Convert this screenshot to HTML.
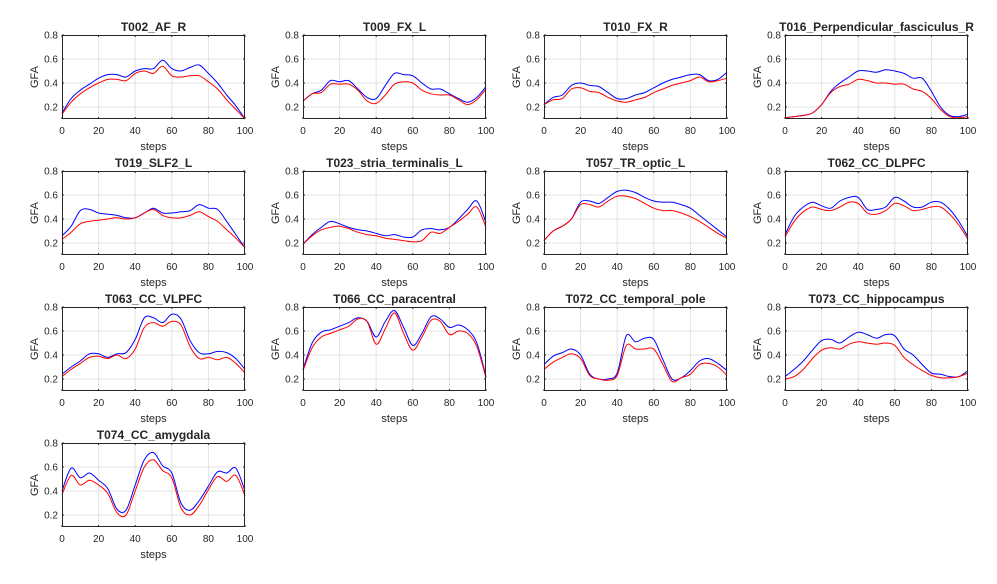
<!DOCTYPE html>
<html><head><meta charset="utf-8"><style>
body{margin:0;background:#fff;width:997px;height:579px;overflow:hidden;font-family:"Liberation Sans",Arial,sans-serif}
svg text{font-family:"Liberation Sans",Arial,sans-serif;fill:#262626}
</style></head><body>
<svg id="fig" width="997" height="579" xmlns="http://www.w3.org/2000/svg"></svg>
<script>
const titles=["T002_AF_R","T009_FX_L","T010_FX_R","T016_Perpendicular_fasciculus_R","T019_SLF2_L","T023_stria_terminalis_L","T057_TR_optic_L","T062_CC_DLPFC","T063_CC_VLPFC","T066_CC_paracentral","T072_CC_temporal_pole","T073_CC_hippocampus","T074_CC_amygdala"];
const steps=[0,5,10,15,20,25,30,35,40,45,50,55,60,65,70,75,80,85,90,95,100];
const xTicks=[0,20,40,60,80,100];
const yTicks=[0.2,0.4,0.6,0.8];
const blue=[
[0.15,0.27,0.34,0.39,0.44,0.47,0.47,0.45,0.50,0.52,0.52,0.59,0.52,0.50,0.53,0.55,0.48,0.40,0.30,0.21,0.10],
[0.25,0.31,0.34,0.42,0.41,0.42,0.35,0.28,0.27,0.38,0.48,0.47,0.46,0.40,0.35,0.35,0.31,0.27,0.24,0.28,0.37],
[0.22,0.28,0.30,0.38,0.40,0.38,0.37,0.32,0.27,0.27,0.30,0.32,0.36,0.40,0.43,0.45,0.47,0.47,0.42,0.43,0.49],
[0.11,0.12,0.13,0.15,0.22,0.33,0.40,0.45,0.50,0.50,0.49,0.51,0.50,0.48,0.44,0.44,0.33,0.20,0.13,0.12,0.14],
[0.26,0.34,0.47,0.48,0.45,0.44,0.43,0.41,0.41,0.45,0.49,0.45,0.45,0.46,0.47,0.52,0.49,0.48,0.38,0.27,0.16],
[0.19,0.27,0.33,0.38,0.36,0.33,0.31,0.30,0.28,0.26,0.27,0.25,0.25,0.31,0.32,0.31,0.33,0.40,0.48,0.55,0.37],
[0.22,0.30,0.34,0.40,0.54,0.55,0.53,0.58,0.63,0.64,0.62,0.58,0.55,0.54,0.54,0.52,0.49,0.43,0.37,0.31,0.25],
[0.27,0.42,0.50,0.54,0.51,0.49,0.55,0.58,0.58,0.48,0.48,0.50,0.58,0.55,0.50,0.50,0.54,0.54,0.48,0.38,0.25],
[0.24,0.30,0.35,0.41,0.41,0.38,0.41,0.42,0.53,0.71,0.71,0.67,0.74,0.70,0.52,0.42,0.41,0.43,0.42,0.37,0.28],
[0.28,0.50,0.59,0.61,0.64,0.67,0.71,0.68,0.55,0.68,0.77,0.63,0.48,0.58,0.72,0.70,0.63,0.65,0.61,0.50,0.22],
[0.32,0.39,0.42,0.45,0.40,0.24,0.20,0.20,0.25,0.56,0.51,0.54,0.53,0.36,0.20,0.21,0.27,0.35,0.37,0.33,0.27],
[0.22,0.28,0.35,0.44,0.52,0.53,0.50,0.55,0.59,0.57,0.54,0.57,0.56,0.45,0.40,0.32,0.25,0.24,0.22,0.22,0.27],
[0.40,0.59,0.51,0.55,0.49,0.42,0.25,0.24,0.45,0.66,0.72,0.61,0.55,0.30,0.24,0.32,0.44,0.56,0.55,0.59,0.40]];
const red=[
[0.14,0.24,0.31,0.36,0.40,0.43,0.43,0.42,0.48,0.50,0.48,0.54,0.46,0.45,0.46,0.46,0.41,0.35,0.26,0.18,0.10],
[0.25,0.31,0.32,0.39,0.39,0.39,0.34,0.25,0.23,0.30,0.39,0.41,0.40,0.34,0.31,0.30,0.30,0.26,0.22,0.26,0.35],
[0.22,0.26,0.27,0.35,0.36,0.33,0.32,0.28,0.25,0.24,0.26,0.28,0.32,0.35,0.38,0.40,0.42,0.45,0.41,0.42,0.44],
[0.11,0.12,0.13,0.15,0.22,0.32,0.37,0.39,0.43,0.42,0.40,0.40,0.39,0.39,0.35,0.33,0.27,0.18,0.12,0.11,0.12],
[0.23,0.29,0.36,0.38,0.39,0.40,0.41,0.40,0.41,0.45,0.48,0.43,0.41,0.41,0.43,0.46,0.42,0.38,0.31,0.24,0.16],
[0.19,0.26,0.31,0.33,0.34,0.32,0.29,0.27,0.26,0.24,0.23,0.22,0.21,0.22,0.29,0.28,0.33,0.38,0.44,0.50,0.33],
[0.22,0.30,0.34,0.40,0.52,0.52,0.50,0.55,0.59,0.59,0.57,0.53,0.49,0.47,0.47,0.45,0.42,0.38,0.33,0.28,0.24],
[0.25,0.38,0.46,0.50,0.48,0.47,0.50,0.54,0.53,0.45,0.44,0.47,0.53,0.51,0.47,0.48,0.50,0.50,0.44,0.35,0.23],
[0.22,0.28,0.33,0.38,0.39,0.37,0.40,0.37,0.45,0.63,0.67,0.64,0.68,0.65,0.47,0.37,0.38,0.36,0.38,0.33,0.25],
[0.27,0.46,0.55,0.58,0.61,0.64,0.70,0.68,0.49,0.62,0.75,0.58,0.44,0.55,0.69,0.68,0.57,0.60,0.58,0.47,0.21],
[0.28,0.34,0.38,0.41,0.37,0.23,0.20,0.19,0.23,0.48,0.45,0.45,0.45,0.32,0.18,0.21,0.24,0.32,0.33,0.30,0.23],
[0.20,0.22,0.28,0.37,0.44,0.46,0.45,0.49,0.51,0.50,0.49,0.50,0.48,0.38,0.32,0.27,0.23,0.21,0.21,0.22,0.25],
[0.37,0.53,0.45,0.49,0.45,0.38,0.22,0.20,0.40,0.60,0.66,0.57,0.51,0.26,0.20,0.28,0.41,0.52,0.48,0.53,0.36]];

const NS="http://www.w3.org/2000/svg";
const svg=document.getElementById('fig');
const W=183,H=84;
function mk(tag,attrs,parent){const e=document.createElementNS(NS,tag);for(const k in attrs)e.setAttribute(k,attrs[k]);parent.appendChild(e);return e;}
function pathFrom(pts){
  let d="M"+pts[0][0].toFixed(2)+","+pts[0][1].toFixed(2);
  for(let i=0;i<pts.length-1;i++){
    const p0=pts[Math.max(0,i-1)],p1=pts[i],p2=pts[i+1],p3=pts[Math.min(pts.length-1,i+2)];
    const c1x=p1[0]+(p2[0]-p0[0])/6,c1y=p1[1]+(p2[1]-p0[1])/6;
    const c2x=p2[0]-(p3[0]-p1[0])/6,c2y=p2[1]-(p3[1]-p1[1])/6;
    d+=" C"+c1x.toFixed(2)+","+c1y.toFixed(2)+" "+c2x.toFixed(2)+","+c2y.toFixed(2)+" "+p2[0].toFixed(2)+","+p2[1].toFixed(2);
  }
  return d;
}
titles.forEach((t,i)=>{
  const col=i%4,row=Math.floor(i/4);
  const L=62+col*241,T=35+row*136;
  const xs=v=>L+v/100*W;
  const ys=v=>T+H-(v-0.1)/0.7*H;
  const g=mk('g',{},svg);
  
  
  mk('rect',{x:L,y:T,width:W,height:H,fill:'#fff'},g);
  xTicks.forEach(v=>{
    if(v>0&&v<100)mk('line',{x1:xs(v),x2:xs(v),y1:T,y2:T+H,stroke:'#e3e3e3','stroke-width':1},g);
    mk('line',{x1:xs(v),x2:xs(v),y1:T+H,y2:T+H-2,stroke:'#262626'},g);
    mk('line',{x1:xs(v),x2:xs(v),y1:T,y2:T+2,stroke:'#262626'},g);
    const tx=mk('text',{x:xs(v),y:T+H+15,'font-size':10,'text-anchor':'middle'},g);tx.textContent=v;
    
    
  });
  yTicks.forEach(v=>{
    if(v<0.8)mk('line',{x1:L,x2:L+W,y1:ys(v),y2:ys(v),stroke:'#e3e3e3','stroke-width':1},g);
    mk('line',{x1:L,x2:L+2,y1:ys(v),y2:ys(v),stroke:'#262626'},g);
    mk('line',{x1:L+W,x2:L+W-2,y1:ys(v),y2:ys(v),stroke:'#262626'},g);
    const tx=mk('text',{x:L-4,y:ys(v)+3.5,'font-size':10,'text-anchor':'end'},g);tx.textContent=v.toFixed(1);
    
    
  });
  const pb=mk('path',{d:pathFrom(steps.map((s,k)=>[xs(s),ys(blue[i][k])])),fill:'none',stroke:'#0000ff','stroke-width':1},g);
  
  
  const pr=mk('path',{d:pathFrom(steps.map((s,k)=>[xs(s),ys(red[i][k])])),fill:'none',stroke:'#ff0000','stroke-width':1},g);
  
  
  mk('rect',{x:L+0.5,y:T+0.5,width:W-1,height:H-1,fill:'none',stroke:'#262626','stroke-width':1},g);
  const tt=mk('text',{x:L+W/2,y:T-4,'font-size':12,'font-weight':'bold','text-anchor':'middle',fill:'#000'},g);tt.textContent=t;
  
  
  const xl=mk('text',{x:L+W/2,y:T+H+31,'font-size':11,'text-anchor':'middle'},g);xl.textContent='steps';
  
  
  const yl=mk('text',{x:0,y:0,'font-size':11,'text-anchor':'middle',transform:'translate('+(L-24)+','+(T+H/2)+') rotate(-90)'},g);yl.textContent='GFA';
  
  
});
</script>
</body></html>
